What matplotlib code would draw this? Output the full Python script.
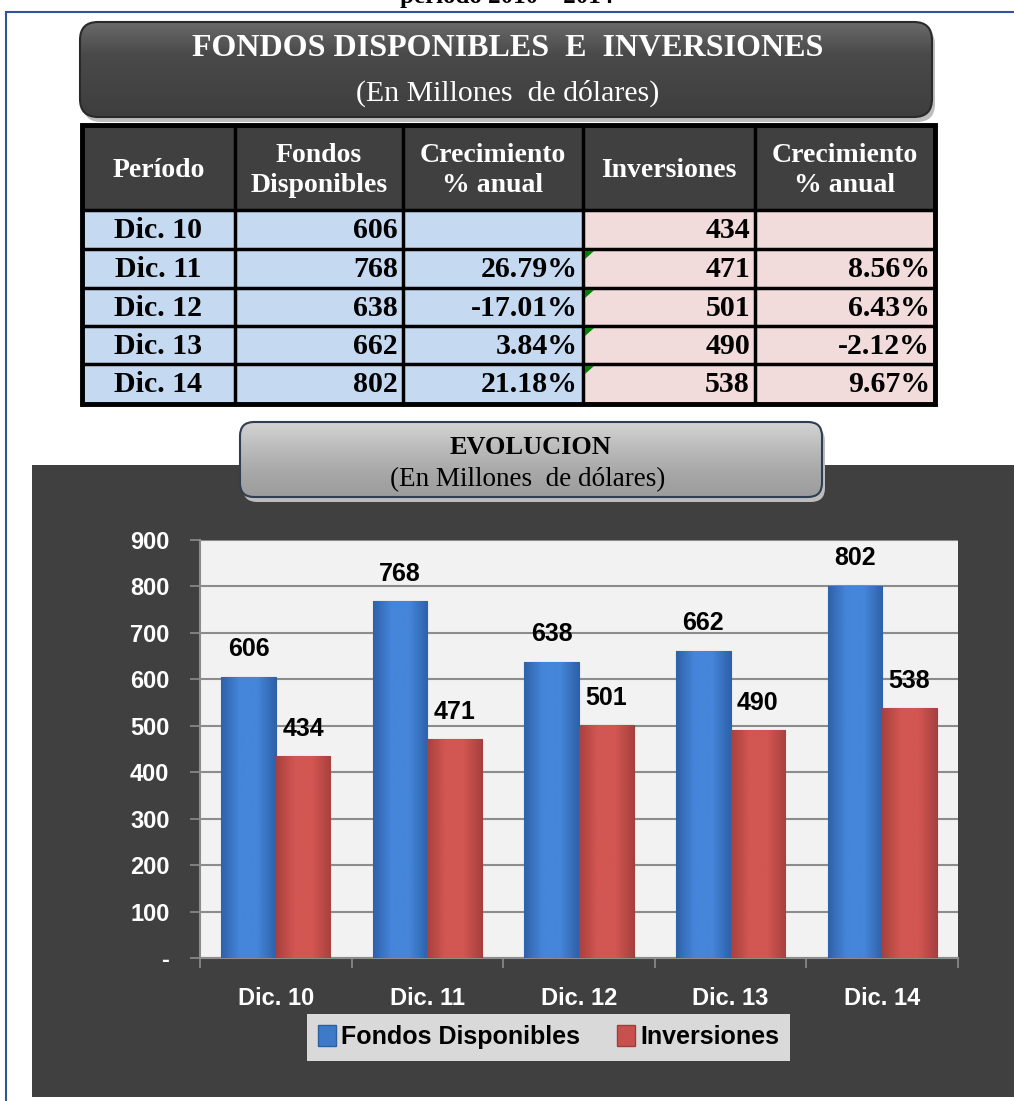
import numpy as np
import matplotlib
matplotlib.use("Agg")
import matplotlib.pyplot as plt
from matplotlib.patches import Rectangle, FancyBboxPatch, Polygon
from matplotlib.colors import LinearSegmentedColormap

periodos = ["Dic. 10", "Dic. 11", "Dic. 12", "Dic. 13", "Dic. 14"]
fondos = [606, 768, 638, 662, 802]
inversiones = [434, 471, 501, 490, 538]
crec_fondos = ["", "26.79%", "-17.01%", "3.84%", "21.18%"]
crec_inversiones = ["", "8.56%", "6.43%", "-2.12%", "9.67%"]
encabezados = ["Período", "Fondos\nDisponibles", "Crecimiento\n% anual",
               "Inversiones", "Crecimiento\n% anual"]
y_ticks = [0, 100, 200, 300, 400, 500, 600, 700, 800, 900]

SERIF = ["Liberation Serif", "DejaVu Serif"]
SANS = ["Liberation Sans", "DejaVu Sans"]

W, H = 1014, 1101


def caja_gradiente(ax, x0, y0, x1, y1, colores, borde, radio):
    caja = FancyBboxPatch((x0, y0), x1 - x0, y1 - y0,
                          boxstyle=f"round,pad=0,rounding_size={radio}",
                          facecolor="none", edgecolor=borde, lw=1.5, zorder=3)
    # sombra
    sombra = FancyBboxPatch((x0 + 3, y0 + 5), x1 - x0, y1 - y0,
                            boxstyle=f"round,pad=0,rounding_size={radio}",
                            facecolor="#bdbdbd", edgecolor="none", zorder=1)
    ax.add_patch(sombra)
    fondo = FancyBboxPatch((x0, y0), x1 - x0, y1 - y0,
                           boxstyle=f"round,pad=0,rounding_size={radio}",
                           facecolor="none", edgecolor="none", zorder=2)
    ax.add_patch(fondo)
    cmap = LinearSegmentedColormap.from_list("g", colores)
    grad = np.linspace(0, 1, 256).reshape(-1, 1)
    im = ax.imshow(grad, extent=(x0, x1, y1, y0), origin="upper", cmap=cmap,
                   aspect="auto", zorder=2)
    im.set_clip_path(fondo)
    ax.add_patch(caja)


def dibujar_fondo(fig):
    ax = fig.add_axes([0, 0, 1, 1])
    ax.axis("off")

    # titulo cortado arriba (asi viene en la captura)
    ax.text(507, 3, "período 2010 – 2014", ha="center", va="baseline",
            family=SERIF, weight="bold", fontsize=18, color="black")

    # marco azul
    ax.plot([6, W], [12, 12], color="#2F5597", lw=1.5)
    ax.plot([6, 6], [12, H], color="#2F5597", lw=1.5)

    # caja titulo oscura
    caja_gradiente(ax, 80, 22, 932, 117,
                   ["#6a6a6a", "#4a4a4a", "#444444", "#3e3e3e"], "#2a2a2a", 18)
    ax.text(508, 48, "FONDOS DISPONIBLES  E  INVERSIONES", ha="center",
            va="center", family=SERIF, weight="bold", fontsize=23,
            color="white", zorder=4)
    ax.text(508, 93, "(En Millones  de dólares)", ha="center", va="center",
            family=SERIF, fontsize=21.5, color="white", zorder=4)

    # tabla
    xs = [82, 235, 403, 583, 755, 935]
    ys = [125, 210, 249, 288, 326, 364, 404]
    ax.add_patch(Rectangle((xs[0], ys[0]), xs[-1] - xs[0], ys[1] - ys[0],
                           facecolor="#404040", edgecolor="none", zorder=3))
    ax.add_patch(Rectangle((xs[0], ys[1]), xs[3] - xs[0], ys[-1] - ys[1],
                           facecolor="#C5D9F1", edgecolor="none", zorder=3))
    ax.add_patch(Rectangle((xs[3], ys[1]), xs[-1] - xs[3], ys[-1] - ys[1],
                           facecolor="#F2DCDB", edgecolor="none", zorder=3))
    for x in xs:
        ax.plot([x, x], [ys[0], ys[-1]], color="black", lw=2.5, zorder=4,
                solid_capstyle="projecting")
    for y in ys:
        ax.plot([xs[0], xs[-1]], [y, y], color="black", lw=2.5, zorder=4,
                solid_capstyle="projecting")
    ax.add_patch(Rectangle((xs[0], ys[0]), xs[-1] - xs[0], ys[-1] - ys[0],
                           facecolor="none", edgecolor="black", lw=3.5, zorder=5))

    for j, txt in enumerate(encabezados):
        ax.text((xs[j] + xs[j + 1]) / 2, (ys[0] + ys[1]) / 2 + 3, txt,
                ha="center", va="center", family=SERIF, weight="bold",
                fontsize=20, color="white", linespacing=1.25, zorder=6)

    filas = zip(periodos, fondos, crec_fondos, inversiones, crec_inversiones)
    for i, fila in enumerate(filas):
        yc = (ys[i + 1] + ys[i + 2]) / 2 + 1
        for j, val in enumerate(fila):
            txt = str(val)
            if j == 0:
                ax.text((xs[0] + xs[1]) / 2, yc, txt, ha="center", va="center",
                        family=SERIF, weight="bold", fontsize=21.5, zorder=6)
            else:
                ax.text(xs[j + 1] - 5, yc, txt, ha="right", va="center",
                        family=SERIF, weight="bold", fontsize=21.5, zorder=6)
        if i > 0:
            x0, y0 = xs[3] + 2, ys[i + 1] + 2
            ax.add_patch(Polygon([[x0, y0], [x0 + 9, y0], [x0, y0 + 8]],
                                 closed=True, facecolor="#008000",
                                 edgecolor="none", zorder=6))

    # fondo oscuro del grafico
    ax.add_patch(Rectangle((32, 465), W - 32, 1097 - 465,
                           facecolor="#404040", edgecolor="none", zorder=1))

    # caja titulo gris
    caja_gradiente(ax, 240, 422, 822, 497,
                   ["#d4d4d4", "#bcbcbc", "#a8a8a8", "#9c9c9c"], "#2f3e50", 14)
    ax.text(531, 447, "EVOLUCION", ha="center", va="center", family=SERIF,
            weight="bold", fontsize=19, color="black", zorder=4)
    ax.text(528, 480, "(En Millones  de dólares)", ha="center", va="center",
            family=SERIF, fontsize=19.5, color="black", zorder=4)

    ax.set_xlim(0, W)
    ax.set_ylim(H, 0)
    return ax


def barras_gradiente(ax, barras, borde, centro):
    cmap = LinearSegmentedColormap.from_list("b", [borde, centro, centro, borde])
    grad = np.linspace(0, 1, 64).reshape(1, -1)
    for b in barras:
        x, w, h = b.get_x(), b.get_width(), b.get_height()
        im = ax.imshow(grad, extent=(x, x + w, 0, h), cmap=cmap, aspect="auto",
                       zorder=b.get_zorder() + 0.1)
        im.set_clip_path(b)


def dibujar_grafico(fig):
    ax = fig.add_axes([200 / W, (H - 958) / H, 758 / W, 418 / H])
    ax.set_facecolor("#F2F2F2")

    x = np.arange(len(periodos))
    ancho = 0.36
    b1 = ax.bar(x - ancho / 2, fondos, ancho, color="#3F7AC9",
                edgecolor="#2F5F9F", lw=0.8, zorder=3, label="Fondos Disponibles")
    b2 = ax.bar(x + ancho / 2, inversiones, ancho, color="#C8504D",
                edgecolor="#9F3E3C", lw=0.8, zorder=3, label="Inversiones")
    barras_gradiente(ax, b1, "#2E62AA", "#4585DA")
    barras_gradiente(ax, b2, "#A8413F", "#D25651")

    for barras in (b1, b2):
        for b in barras:
            ax.annotate(f"{int(b.get_height())}",
                        (b.get_x() + b.get_width() / 2, b.get_height()),
                        xytext=(0, 11), textcoords="offset points",
                        ha="center", va="bottom", family=SANS, weight="bold",
                        fontsize=18, color="black", zorder=5)

    ax.set_xlim(-0.5, len(periodos) - 0.5)
    ax.set_ylim(0, 900)
    ax.set_yticks(y_ticks)
    ax.set_yticklabels(["-" if v == 0 else str(v) for v in y_ticks])
    ax.yaxis.grid(True, color="#8c8c8c", lw=1.5, zorder=1)
    ax.set_axisbelow(True)

    ax.set_xticks(x)
    ax.set_xticklabels(periodos)
    ax.set_xticks(np.arange(len(periodos) + 1) - 0.5, minor=True)
    ax.tick_params(axis="x", which="major", length=0, pad=21)
    ax.tick_params(axis="x", which="minor", length=7, width=1.2,
                   color="#8c8c8c", direction="out")
    ax.tick_params(axis="y", length=7, width=1.2, color="#8c8c8c", pad=15)
    for lab in ax.get_xticklabels() + ax.get_yticklabels():
        lab.set_family(SANS)
        lab.set_weight("bold")
        lab.set_fontsize(17)
        lab.set_color("white")

    for lado in ("top", "right"):
        ax.spines[lado].set_visible(False)
    ax.spines["left"].set_color("#8c8c8c")
    ax.spines["left"].set_linewidth(1.5)
    ax.spines["bottom"].set_color("#8c8c8c")
    ax.spines["bottom"].set_linewidth(1.5)

    handles = [Rectangle((0, 0), 1, 1, facecolor="#3F7AC9", edgecolor="#2F5F9F"),
               Rectangle((0, 0), 1, 1, facecolor="#C8504D", edgecolor="#9F3E3C")]
    leg = ax.legend(handles, ["Fondos Disponibles", "Inversiones"], ncol=2,
                    loc="center", bbox_to_anchor=(0.46, -0.19), frameon=True,
                    fancybox=False, facecolor="#D9D9D9", edgecolor="none",
                    framealpha=1, handlelength=0.7, handleheight=0.9,
                    handletextpad=0.2, columnspacing=1.5, borderpad=0.45,
                    borderaxespad=0,
                    prop={"family": SANS, "weight": "bold", "size": 18})
    for t in leg.get_texts():
        t.set_color("black")
    return ax


def main():
    fig = plt.figure(figsize=(W / 100, H / 100), dpi=100)
    fig.patch.set_facecolor("white")
    dibujar_fondo(fig)
    dibujar_grafico(fig)
    fig.savefig("out.png", dpi=100)


if __name__ == "__main__":
    main()
